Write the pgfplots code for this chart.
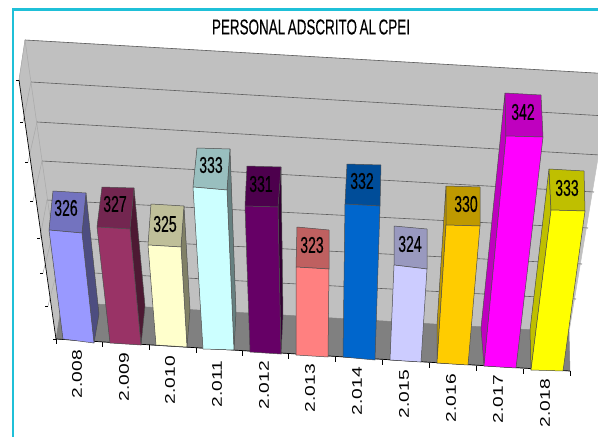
\documentclass[border=0pt]{standalone}
\usepackage{fontspec}
\setmainfont{Liberation Sans}
\newfontfamily\tfont{Liberation Sans}[FakeBold=0.35,WordSpace=0.7]
\newfontfamily\vfont{Liberation Sans}[FakeBold=0.6]
\usepackage{pgfplots}
\pgfplotsset{compat=1.18}
\definecolor{frame}{HTML}{1FC0D8}
\definecolor{wall}{HTML}{C0C0C0}
\definecolor{floorc}{HTML}{808080}
\definecolor{gridc}{HTML}{5F5F5F}
\definecolor{wgrid}{HTML}{A8A8A8}
\definecolor{a1}{HTML}{4D4D80}\definecolor{a2}{HTML}{7373BF}\definecolor{a3}{HTML}{9999FF}
\definecolor{b1}{HTML}{4D1933}\definecolor{b2}{HTML}{732650}\definecolor{b3}{HTML}{993366}
\definecolor{c1}{HTML}{808066}\definecolor{c2}{HTML}{BFBF99}\definecolor{c3}{HTML}{FFFFCC}
\definecolor{d1}{HTML}{668080}\definecolor{d2}{HTML}{99BFBF}\definecolor{d3}{HTML}{CCFFFF}
\definecolor{e1}{HTML}{330033}\definecolor{e2}{HTML}{4D004D}\definecolor{e3}{HTML}{660066}
\definecolor{f2}{HTML}{BF6060}\definecolor{f3}{HTML}{FF8080}
\definecolor{g2}{HTML}{004D99}\definecolor{g3}{HTML}{0066CC}
\definecolor{h2}{HTML}{9999BF}\definecolor{h3}{HTML}{CCCCFF}
\definecolor{i2}{HTML}{BF9900}\definecolor{i3}{HTML}{FFCC00}
\definecolor{j2}{HTML}{BF00BF}\definecolor{j3}{HTML}{FF00FF}
\definecolor{k2}{HTML}{BFBF00}\definecolor{k3}{HTML}{FFFF00}
\newcommand{\poly}[3]{\addplot[draw=#1,fill=#2,line width=0.5pt,line join=round] coordinates {#3} -- cycle;}
\newcommand{\glin}[1]{\addplot[draw=gridc,line width=0.6pt] coordinates {#1};}
\newcommand{\wlin}[1]{\addplot[draw=wgrid,line width=0.5pt] coordinates {#1};}
\begin{document}
\begin{tikzpicture}
\useasboundingbox (0,0) rectangle (598pt,437pt);
\begin{axis}[
  at={(0,0)}, anchor=south west,
  scale only axis, width=598pt, height=437pt,
  xmin=0, xmax=598, ymin=0, ymax=437, y dir=reverse,
  axis lines=none, no markers, clip=true,
  every node near coord/.style={anchor=center, text=black, inner sep=0pt},
]
% frame
\addplot[draw=frame,line width=2.6pt] coordinates {(13,437) (13,9.5) (598,9.5)};
% walls
\poly{wall}{wall}{(25,40) (612,74) (569,332) (62,302)}
\poly{wall}{wall}{(25,40) (19,80) (56,339) (62,302)}
% back grid
\glin{(25,40) (612,74)}
\glin{(31,82) (606,116)}
\glin{(37,122) (600,155)}
\glin{(42,161) (594,192)}
\glin{(47,200) (588,228)}
\glin{(52,237) (582,264)}
\glin{(57,271) (576,299)}
% left wall grid
\wlin{(25,40) (19,80)}
\wlin{(31,82) (23,122)}
\wlin{(37,122) (28,162)}
\wlin{(42,161) (33,201)}
\wlin{(47,200) (40,238)}
\wlin{(52,237) (43,273)}
\wlin{(57,271) (48,306)}
\wlin{(25,40) (62,302)}
% floor
\poly{floorc}{floorc}{(62,302) (569,332) (570,371) (56,339)}
% axes
\addplot[draw=black,line width=0.7pt] coordinates {(19,80) (56,339) (570,371)};
\addplot[draw=black,line width=0.6pt] coordinates {(19,80) (16,80)};
\addplot[draw=black,line width=0.6pt] coordinates {(23,122) (20,122)};
\addplot[draw=black,line width=0.6pt] coordinates {(28,162) (25,162)};
\addplot[draw=black,line width=0.6pt] coordinates {(33,201) (30,201)};
\addplot[draw=black,line width=0.6pt] coordinates {(40,238) (37,238)};
\addplot[draw=black,line width=0.6pt] coordinates {(43,273) (40,273)};
\addplot[draw=black,line width=0.6pt] coordinates {(48,306) (45,306)};
\addplot[draw=black,line width=0.6pt] coordinates {(56,339) (53,339)};
\addplot[draw=black,line width=0.6pt] coordinates {(56,339) (56,344)};
\addplot[draw=black,line width=0.6pt] coordinates {(102,342) (102,347)};
\addplot[draw=black,line width=0.6pt] coordinates {(149,345) (149,350)};
\addplot[draw=black,line width=0.6pt] coordinates {(196,348) (196,353)};
\addplot[draw=black,line width=0.6pt] coordinates {(242,351) (242,356)};
\addplot[draw=black,line width=0.6pt] coordinates {(288,354) (288,359)};
\addplot[draw=black,line width=0.6pt] coordinates {(335,357) (335,362)};
\addplot[draw=black,line width=0.6pt] coordinates {(382,360) (382,365)};
\addplot[draw=black,line width=0.6pt] coordinates {(429,363) (429,368)};
\addplot[draw=black,line width=0.6pt] coordinates {(476,366) (476,371)};
\addplot[draw=black,line width=0.6pt] coordinates {(523,369) (523,374)};
\addplot[draw=black,line width=0.6pt] coordinates {(570,371) (570,376)};
% 2008
\poly{black!70}{a1}{(82,233) (86,193) (99,314) (94,343)}
\poly{black!70}{a2}{(49,230) (53,191) (86,193) (82,233)}
\poly{black!70}{a3}{(49,230) (82,233) (94,343) (63,339)}
% 2009
\poly{black!70}{b1}{(130,229) (134,188) (145,306) (141,345)}
\poly{black!70}{b2}{(97,227) (102,187) (134,188) (130,229)}
\poly{black!70}{b3}{(97,227) (130,229) (141,345) (110,343)}
% 2010
\poly{black!70}{c1}{(181,247) (184,206) (190,310) (187,347)}
\poly{black!70}{c2}{(148,245) (151,204) (184,206) (181,247)}
\poly{black!70}{c3}{(148,245) (181,247) (187,347) (156,345)}
% 2011
\poly{black!70}{d1}{(227,190) (230,149) (236,312) (234,350)}
\poly{black!70}{d2}{(193,187) (197,148) (230,149) (227,190)}
\poly{black!70}{d3}{(193,187) (227,190) (234,350) (203,349)}
% 2012
\poly{black!70}{e1}{(278,207) (281,167) (283,315) (281,354)}
\poly{black!70}{e2}{(245,206) (247,166) (281,167) (278,207)}
\poly{black!70}{e3}{(245,206) (278,207) (281,354) (250,352)}
% 2013
\poly{black!70}{f2}{(296,267) (297,227) (329,230) (329,269)}
\poly{black!70}{f3}{(296,267) (329,269) (328,357) (296,355)}
% 2014
\poly{black!70}{g2}{(345,204) (347,164) (381,165) (380,206)}
\poly{black!70}{g3}{(345,204) (380,206) (375,360) (343,357)}
% 2015
\poly{black!70}{h2}{(394,265) (394,226) (427,229) (427,269)}
\poly{black!70}{h3}{(394,265) (427,269) (421,362) (390,360)}
% 2016
\poly{black!70}{i2}{(437,363) (446,225) (446,186) (437,325)}
\poly{black!70}{i2}{(446,225) (446,186) (480,187) (480,226)}
\poly{black!70}{i3}{(446,225) (480,226) (468,365) (437,363)}
% 2017
\poly{black!70}{j2}{(506,136) (505,93) (481,328) (484,366)}
\poly{black!70}{j2}{(506,136) (505,93) (541,95) (543,137)}
\poly{black!70}{j3}{(506,136) (543,137) (516,368) (484,366)}
% 2018
\poly{black!70}{k2}{(551,210) (549,169) (530,330) (531,370)}
\poly{black!70}{k2}{(551,210) (549,169) (584,171) (585,211)}
\poly{black!70}{k3}{(551,210) (585,211) (563,371) (531,370)}
% value labels
\addplot[draw=none, point meta=explicit symbolic,
  nodes near coords={\scalebox{0.7}[1.14]{\vfont\fontsize{20}{20}\selectfont\pgfplotspointmeta}}]
 coordinates {(66,208)[326] (115,204)[327] (165,224)[325] (211,165)[333] (261,184)[331] (312,245)[323]
  (362,181)[332] (410,244)[324] (466,204)[330] (523,112)[342] (567,188)[333]};
% category labels
\addplot[draw=none, point meta=explicit symbolic,
  every node near coord/.append style={rotate=90},
  nodes near coords={\scalebox{1.37}[1]{\fontsize{14}{14}\selectfont\pgfplotspointmeta}}]
 coordinates {(77,374)[2.008] (124,377)[2.009] (170,380)[2.010] (217,384)[2.011] (264,385)[2.012] (310,388)[2.013]
  (357,391)[2.014] (404,394)[2.015] (451,398)[2.016] (498,399)[2.017] (545,403)[2.018]};
\node[anchor=center,inner sep=0pt] at (axis cs:311,27) {\resizebox{198pt}{15pt}{\tfont PERSONAL ADSCRITO AL CPEI}};
\end{axis}
\end{tikzpicture}
\end{document}
